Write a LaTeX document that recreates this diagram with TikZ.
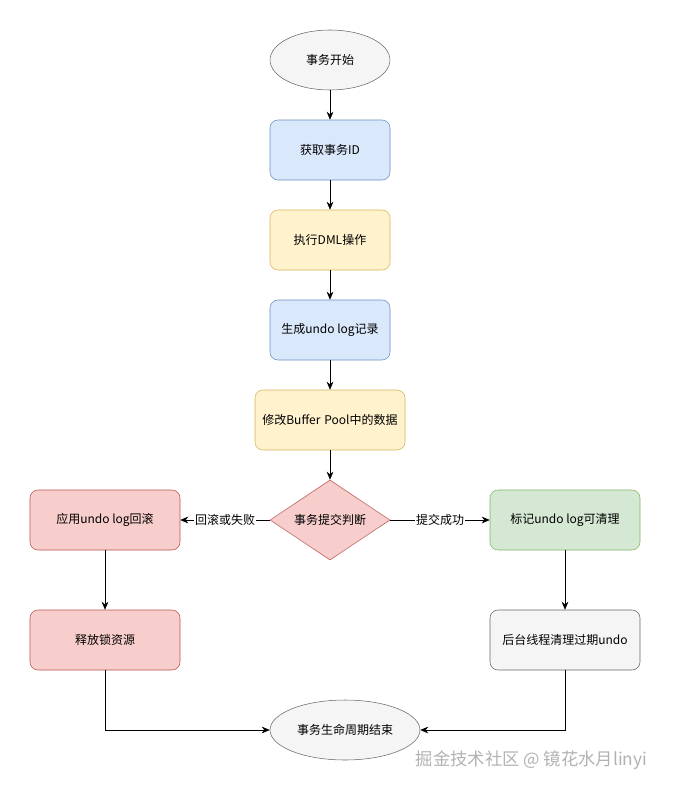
\documentclass[tikz,border=0pt]{standalone}
\usepackage{fontspec}
\setmainfont{Noto Sans CJK SC}
\usetikzlibrary{shapes.geometric,arrows.meta}
\definecolor{bF}{HTML}{DAE8FC}\definecolor{bS}{HTML}{6C8EBF}
\definecolor{yF}{HTML}{FFF2CC}\definecolor{yS}{HTML}{D6B656}
\definecolor{rF}{HTML}{F8CECC}\definecolor{rS}{HTML}{B85450}
\definecolor{gF}{HTML}{D5E8D4}\definecolor{gS}{HTML}{82B366}
\definecolor{eF}{HTML}{F5F5F5}\definecolor{eS}{HTML}{666666}
\begin{document}
\begin{tikzpicture}[x=0.75pt,y=-0.75pt,
 every node/.style={font=\fontsize{9}{11}\selectfont,align=center},
 box/.style={rectangle,rounded corners=6pt,minimum width=90pt,minimum height=45pt,inner sep=2pt},
 blue/.style={box,fill=bF,draw=bS},
 yel/.style={box,fill=yF,draw=yS},
 red/.style={box,fill=rF,draw=rS,minimum width=112.5pt},
 grn/.style={box,fill=gF,draw=gS,minimum width=112.5pt},
 gry/.style={box,fill=eF,draw=eS,minimum width=112.5pt},
 ell/.style={ellipse,fill=eF,draw=eS,minimum height=45pt,inner sep=0pt},
 arr/.style={-{Stealth[length=6pt,width=5pt]},black},
 lab/.style={fill=white,inner sep=1pt}]
\path[use as bounding box] (0,0) rectangle (672,792);
\node[ell,minimum width=90pt] (s) at (330,60) {事务开始};
\node[blue] (id) at (330,150) {获取事务ID};
\node[yel] (dml) at (330,240) {执行DML操作};
\node[blue] (undo) at (330,330) {生成undo log记录};
\node[yel,minimum width=112.5pt,text width=105pt] (buf) at (330,420) {修改Buffer Pool中的数据};
\node[diamond,fill=rF,draw=rS,minimum width=90pt,minimum height=60pt,inner sep=0pt,aspect=1.5] (d) at (330,520) {事务提交判断};
\node[red] (rb) at (105,520) {应用undo log回滚};
\node[red] (rel) at (105,640) {释放锁资源};
\node[grn] (mk) at (565,520) {标记undo log可清理};
\node[gry] (bg) at (565,640) {后台线程清理过期undo};
\node[ell,minimum width=112.5pt] (e) at (345,730) {事务生命周期结束};
\draw[arr] (s)--(id);
\draw[arr] (id)--(dml);
\draw[arr] (dml)--(undo);
\draw[arr] (undo)--(buf);
\draw[arr] (buf)--(d);
\draw[arr] (d)-- node[lab]{回滚或失败} (rb);
\draw[arr] (d)-- node[lab]{提交成功} (mk);
\draw[arr] (rb)--(rel);
\draw[arr] (mk)--(bg);
\draw[arr] (rel.south) |- (e.west);
\draw[arr] (bg.south) |- (e.east);
\node[text=gray!60,font=\fontsize{13}{15}\selectfont,anchor=east] (wm) at (652,760) {掘金技术社区 @ 镜花水月linyi};
\end{tikzpicture}
\end{document}
